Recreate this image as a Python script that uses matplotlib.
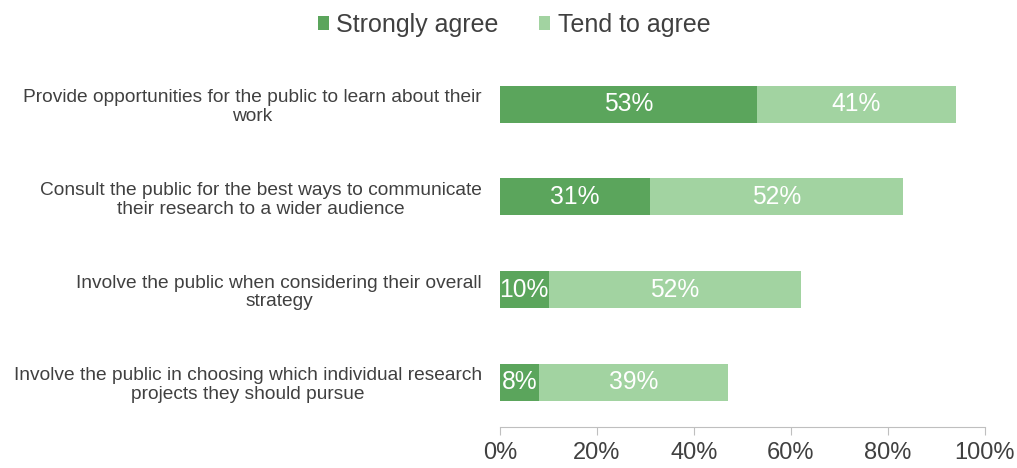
import numpy as np
import matplotlib.pyplot as plt

plt.rcParams['font.family'] = ['Liberation Sans', 'DejaVu Sans']

# data
categories = ['Provide opportunities for the public to learn about their\nwork',
              'Consult the public for the best ways to communicate\ntheir research to a wider audience',
              'Involve the public when considering their overall\nstrategy',
              'Involve the public in choosing which individual research\nprojects they should pursue']
strongly_agree = [53, 31, 10, 8]
tend_to_agree = [41, 52, 52, 39]

dark_green = '#5BA55C'
light_green = '#A2D3A1'
text_col = '#404040'

fig = plt.figure(figsize=(10.17, 4.68), dpi=100)
ax = fig.add_axes([500 / 1017, 1 - 427 / 468, 485 / 1017, (427 - 59.5) / 468])

y = np.arange(len(categories))
bar_h = 0.4
b1 = ax.barh(y, strongly_agree, bar_h, color=dark_green, label='Strongly agree')
b2 = ax.barh(y, tend_to_agree, bar_h, left=strongly_agree, color=light_green, label='Tend to agree')

for bars in (b1, b2):
    for r in bars:
        w = r.get_width()
        ax.text(r.get_x() + w / 2, r.get_y() + r.get_height() / 2, '%d%%' % w,
                ha='center', va='center', color='white', fontsize=17.7)

ax.set_xlim(0, 100)
ax.set_ylim(3.486, -0.486)
ax.set_xticks(np.arange(0, 101, 20))
ax.set_xticklabels(['%d%%' % v for v in range(0, 101, 20)], fontsize=17, color=text_col)
ax.set_yticks(y)
ax.set_yticklabels(categories, fontsize=13.8, color=text_col)
for lbl in ax.get_yticklabels():
    lbl.set_multialignment('center')
    lbl.set_linespacing(1.15)

for s in ('top', 'right', 'left'):
    ax.spines[s].set_visible(False)
ax.spines['bottom'].set_color('#BFBFBF')
ax.tick_params(axis='y', length=0, pad=13)
ax.tick_params(axis='x', length=6, color='#BFBFBF', pad=5)

fig.legend(loc='center', bbox_to_anchor=(514 / 1017, 1 - 25 / 468), ncol=2, frameon=False,
           fontsize=18, handlelength=0.45, handleheight=0.45, handletextpad=0.3,
           columnspacing=1.6, labelcolor=text_col)

fig.savefig('out.png', dpi=100)
